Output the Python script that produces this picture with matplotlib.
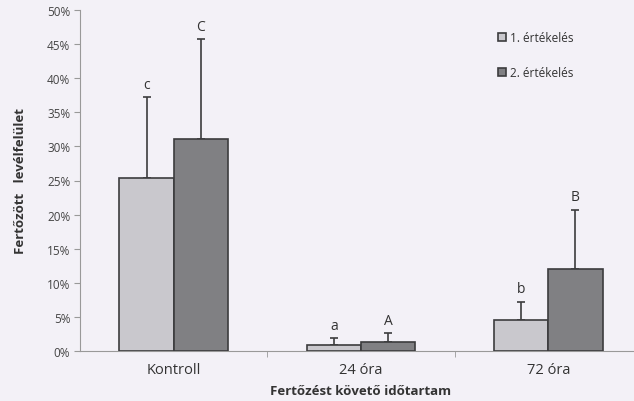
import numpy as np
import matplotlib.pyplot as plt

plt.rcParams['font.family'] = ['Open Sans', 'DejaVu Sans']

categories = ["Kontroll", "24 óra", "72 óra"]
ert1 = [25.4, 0.9, 4.5]
ert1_err = [11.8, 1.0, 2.7]
ert2 = [31.1, 1.3, 12.0]
ert2_err = [14.6, 1.3, 8.7]
letters1 = ["c", "a", "b"]
letters2 = ["C", "A", "B"]

bg = "#f3f1f7"
fig = plt.figure(figsize=(6.34, 4.02), dpi=100, facecolor=bg)
ax = fig.add_axes([80/634, 50/402, 562/634, 341/402], facecolor=bg)

x = np.arange(len(categories))
w = 0.29
ax.bar(x - w/2, ert1, w, color="#c9c8cd", edgecolor="#3c3c3e", linewidth=1.2,
       label="1. értékelés", zorder=3)
ax.bar(x + w/2, ert2, w, color="#808083", edgecolor="#3c3c3e", linewidth=1.2,
       label="2. értékelés", zorder=3)
# upper error bars only
ax.errorbar(x - w/2, ert1, yerr=[np.zeros(3), ert1_err], fmt="none",
            ecolor="#3c3c3e", elinewidth=1.2, capsize=3, capthick=1.2, zorder=2)
ax.errorbar(x + w/2, ert2, yerr=[np.zeros(3), ert2_err], fmt="none",
            ecolor="#3c3c3e", elinewidth=1.2, capsize=3, capthick=1.2, zorder=2)

for i in range(3):
    ax.text(x[i] - w/2, ert1[i] + ert1_err[i] + 0.8, letters1[i],
            ha="center", va="bottom", fontsize=10, color="#333333")
    ax.text(x[i] + w/2, ert2[i] + ert2_err[i] + 0.8, letters2[i],
            ha="center", va="bottom", fontsize=10, color="#333333")

ax.set_xlim(-0.5, 2.5)
ax.set_ylim(0, 50)
ax.set_yticks(np.arange(0, 51, 5))
ax.set_yticklabels([f"{v}%" for v in range(0, 51, 5)], fontsize=8.5, color="#444444")
ax.set_xticks(x)
ax.set_xticklabels(categories, fontsize=10.5, color="#333333")
ax.set_xticks([0.5, 1.5], minor=True)
ax.tick_params(axis="x", which="major", length=0, pad=8)
ax.tick_params(axis="x", which="minor", length=4, color="#999999", direction="out")
ax.tick_params(axis="y", length=4, color="#999999", pad=3)

for s in ["top", "right"]:
    ax.spines[s].set_visible(False)
ax.spines["left"].set_color("#999999")
ax.spines["bottom"].set_color("#999999")

ax.set_xlabel("Fertőzést követő időtartam", fontsize=9.5, fontweight="bold",
              color="#333333", labelpad=5)
ax.set_ylabel("Fertőzött   levélfelület", fontsize=9.5, fontweight="bold",
              color="#333333", labelpad=14)

ax.legend(loc="upper left", bbox_to_anchor=(0.725, 0.97), frameon=False,
          fontsize=8.5, handlelength=0.7, handleheight=0.7, handletextpad=0.3,
          labelspacing=1.9, labelcolor="#333333")

fig.savefig("out.png", dpi=100, facecolor=bg)
